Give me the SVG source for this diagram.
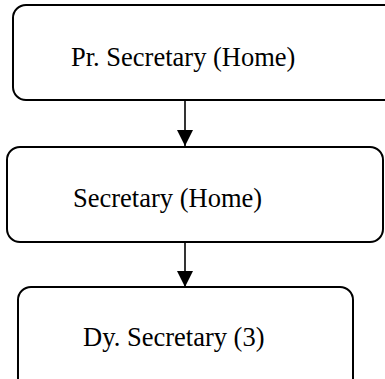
<svg xmlns="http://www.w3.org/2000/svg" width="385" height="379" viewBox="0 0 385 379">
  <style>
    .box { fill: #ffffff; stroke: #000000; stroke-width: 2; }
    .lbl { font-family: "Liberation Serif", "Times New Roman", serif; font-size: 26.5px; fill: #000000; }
    .conn { stroke: #000000; stroke-width: 1.6; fill: none; }
  </style>
  <defs>
    <marker id="arrow" markerUnits="userSpaceOnUse" markerWidth="16" markerHeight="16" refX="16" refY="8" orient="auto">
      <path d="M0,0 L16,8 L0,16 Z" fill="#000000"/>
    </marker>
  </defs>
  <rect width="385" height="379" fill="#ffffff"/>
  <g id="node-pr-secretary">
    <rect class="box" x="13" y="5" width="385" height="95" rx="13" ry="13"/>
    <text class="lbl" x="71" y="66">Pr. Secretary (Home)</text>
  </g>
  <g id="node-secretary">
    <rect class="box" x="7" y="147" width="376" height="95" rx="13" ry="13"/>
    <text class="lbl" x="73" y="207">Secretary (Home)</text>
  </g>
  <g id="node-dy-secretary">
    <rect class="box" x="18" y="287" width="335" height="105" rx="13" ry="13"/>
    <text class="lbl" x="83" y="346">Dy. Secretary (3)</text>
  </g>
  <g id="connectors">
    <line class="conn" x1="185" y1="100" x2="185" y2="146" marker-end="url(#arrow)"/>
    <line class="conn" x1="185" y1="242" x2="185" y2="287" marker-end="url(#arrow)"/>
  </g>
</svg>
